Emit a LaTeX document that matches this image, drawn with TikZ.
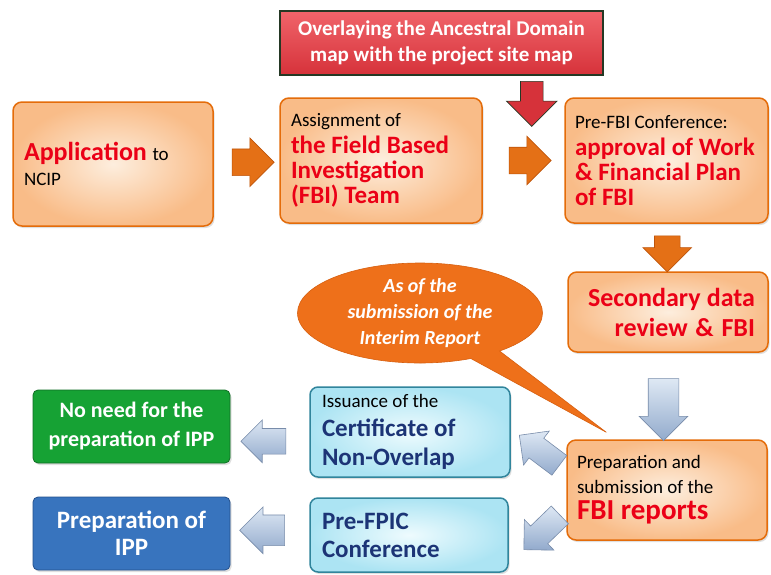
\documentclass[tikz,border=0pt]{standalone}
\usepackage{fontspec}
\setmainfont{Carlito}
\usetikzlibrary{shapes.arrows,shapes.callouts,shadows,calc}
\definecolor{boxorange}{RGB}{228,108,10}
\definecolor{peachin}{RGB}{253,238,222}
\definecolor{peachout}{RGB}{249,188,136}
\definecolor{txtred}{RGB}{235,0,22}
\definecolor{titletop}{RGB}{240,100,106}
\definecolor{titlebot}{RGB}{214,50,58}
\definecolor{titleline}{RGB}{36,56,36}
\definecolor{bubbleorange}{RGB}{238,112,26}
\definecolor{bubbleline}{RGB}{215,95,15}
\definecolor{cyanin}{RGB}{238,251,254}
\definecolor{cyanout}{RGB}{172,228,243}
\definecolor{cyanline}{RGB}{49,133,156}
\definecolor{navytxt}{RGB}{28,52,118}
\definecolor{ippgreen}{RGB}{22,162,52}
\definecolor{ippgreenline}{RGB}{16,110,36}
\definecolor{ippblue}{RGB}{56,116,190}
\definecolor{ippblueline}{RGB}{36,80,140}
\definecolor{arroworange}{RGB}{228,112,22}
\definecolor{arrowline}{RGB}{190,84,10}
\definecolor{steelin}{RGB}{222,232,244}
\definecolor{steelout}{RGB}{146,170,204}
\definecolor{steelline}{RGB}{120,140,170}
\newcommand{\smalltxt}{\fontsize{19}{22}\selectfont}
% TikZ's align=left widens the spaces; go back to the font's own
\newcommand{\fontspaces}{\spaceskip=0pt\xspaceskip=0pt\relax}

\begin{document}
\begin{tikzpicture}[x=1pt,y=-1pt,
  stepbox/.style={draw=boxorange,line width=1.5pt,rounded corners=9pt,
    inner color=peachin,outer color=peachout,inner xsep=11pt,inner ysep=0pt,
    drop shadow={opacity=0.25,shadow xshift=1.5pt,shadow yshift=-2pt},
    font=\fontsize{25}{25}\selectfont},
  certbox/.style={draw=cyanline,line width=1.5pt,rounded corners=8pt,
    inner color=cyanin,outer color=cyanout,inner xsep=12pt,inner ysep=0pt,
    align=left,text=navytxt,
    drop shadow={opacity=0.25,shadow xshift=1.5pt,shadow yshift=-2pt}},
  endbox/.style={rounded corners=5pt,inner sep=0pt,align=center,text=white,
    minimum width=197pt,minimum height=73pt,line width=0.8pt,
    drop shadow={opacity=0.25,shadow xshift=1.5pt,shadow yshift=-2pt}},
  orarrow/.style={single arrow,inner xsep=0pt,inner ysep=13pt,fill=arroworange,
    draw=arrowline,line width=0.6pt,minimum height=42pt,
    single arrow head extend=11pt},
  steelarrow/.style={single arrow,inner xsep=0pt,top color=steelin,
    bottom color=steelout,draw=steelline,line width=0.6pt},
  bubble/.style={ellipse callout,fill=bubbleorange,draw=bubbleline,
    line width=0.6pt,minimum width=245pt,minimum height=100pt,inner sep=0pt,
    text=white,align=center,callout pointer arc=16,
    font=\fontsize{20}{26}\selectfont\bfseries\itshape}]
  \fill[white] (0,0) rectangle (771,574);
  \useasboundingbox (0,0) rectangle (771,574);

  % top row
  \node[draw=titleline,line width=1.5pt,top color=titletop,bottom color=titlebot,
    minimum width=323pt,minimum height=64pt,inner sep=0pt,align=center,text=white,
    font=\fontsize{21}{26}\selectfont\bfseries] (title) at (441.5,43)
    {Overlaying the Ancestral Domain\\map with the project site map};
  \node[stepbox,text width=178pt,minimum height=124pt,align=left] (app) at (113,164)
    {\fontspaces{\color{txtred}\fontsize{26}{26}\selectfont\bfseries Application} {\smalltxt to}\\ {\smalltxt NCIP}};
  \node[stepbox,text width=180pt,minimum height=125pt,align=left] (assign) at (381,160.5)
    {\fontspaces{\smalltxt Assignment of}\\[2pt] \color{txtred}\bfseries the Field Based\\ Investigation\\ (FBI) Team};
  \node[stepbox,text width=183pt,inner xsep=10pt,minimum height=125pt,align=left] (prefbi) at (666.5,160.5)
    {\fontspaces{\smalltxt Pre-FBI Conference:}\\[2pt] \color{txtred}\bfseries approval of Work\\ \& Financial Plan\\ of FBI};

  % right column
  \node[stepbox,text width=174pt,inner xsep=13pt,minimum height=80pt,align=right,
    font=\fontsize{26}{30}\selectfont] (secondary) at (668,312)
    {\fontspaces\color{txtred}\bfseries Secondary data\\ review \& FBI};
  \node[stepbox,text width=180pt,inner xsep=10pt,minimum height=100pt,align=left,
    font=\fontsize{19}{25}\selectfont] (reports) at (667,490)
    {\fontspaces Preparation and\\ submission of the\\[1pt] {\color{txtred}\fontsize{29}{29}\selectfont\bfseries FBI reports}};

  % lower rows
  \node[certbox,text width=176pt,minimum height=90pt,font=\fontsize{25}{29}\selectfont]
    (issuance) at (410,432)
    {\fontspaces{\color{black}\smalltxt Issuance of the}\\ \bfseries Certificate of\\ Non-Overlap};
  \node[certbox,text width=174pt,minimum height=74pt,font=\fontsize{25}{28}\selectfont\bfseries]
    (prefpic) at (409,535) {\fontspaces Pre-FPIC\\ Conference};
  \node[endbox,fill=ippgreen,draw=ippgreenline,font=\fontsize{22}{29}\selectfont\bfseries]
    (noneed) at (131.5,426.5) {No need for the\\ preparation of IPP};
  \node[endbox,fill=ippblue,draw=ippblueline,font=\fontsize{25}{27}\selectfont\bfseries]
    (prepipp) at (131.5,533.5) {Preparation of\\ IPP};

  \node[bubble,callout absolute pointer={($(reports.north west)+(40,-7)$)}]
    (interim) at (420,313) {As of the\\ submission of the\\ Interim Report};

  % block arrows
  \node[orarrow,fill=titlebot,draw=titleline,minimum height=45pt,inner ysep=11pt,
    single arrow head extend=14pt,rotate=270] (overlay) at ($(title.south east)+(-72,22.5)$) {};
  \node[orarrow] (toassign) at ($(app.east)!0.5!(assign.west)$) {};
  \node[orarrow] (toprefbi) at ($(assign.east)!0.5!(prefbi.west)$) {};
  \node[orarrow,minimum height=36pt,inner ysep=12.5pt,single arrow head extend=11.5pt,rotate=270]
    (tosecondary) at ($(prefbi.south)!0.5!(secondary.north)$) {};
  \node[steelarrow,minimum height=62pt,inner ysep=15pt,single arrow head extend=9pt,
    rotate=270] (toreports) at ($(secondary.south)!0.5!(reports.north)+(-4,6)$) {};
  \node[steelarrow,minimum height=50pt,inner ysep=12pt,single arrow head extend=9pt,
    rotate=143] (tocert) at ($(reports.west)+(-22,-36)$) {};
  \node[steelarrow,minimum height=50pt,inner ysep=12pt,single arrow head extend=9pt,
    rotate=224] (tofpic) at ($(reports.west)+(-20,38)$) {};
  \node[steelarrow,minimum height=45pt,inner ysep=12.5pt,single arrow head extend=8.5pt,
    rotate=180] (tononeed) at ($(noneed.east)!0.5!(issuance.west)+(0,12)$) {};
  \node[steelarrow,minimum height=45pt,inner ysep=15pt,single arrow head extend=8pt,
    rotate=180] (toipp) at ($(prepipp.east)!0.5!(prefpic.west)+(0,-4)$) {};
\end{tikzpicture}
\end{document}
